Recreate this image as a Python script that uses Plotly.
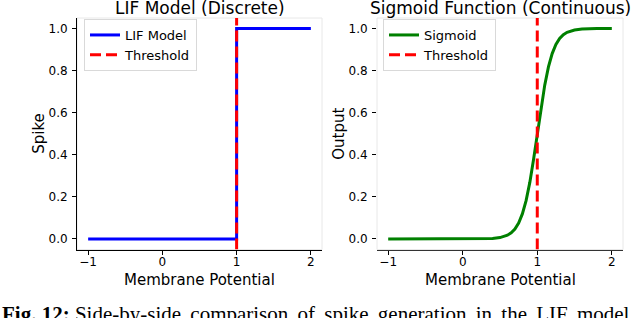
import plotly.graph_objects as go

# ---- data ----
lif_x = [-1.0, 1.0, 2.0]
lif_y = [0.0, 1.0, 1.0]
threshold = 1.0

sig_x = [-1.0, -0.5, 0.0, 0.2, 0.4, 0.5, 0.6, 0.65, 0.7, 0.75, 0.8, 0.85, 0.9, 0.95,
         1.0, 1.05, 1.1, 1.15, 1.2, 1.25, 1.3, 1.35, 1.4, 1.5, 1.6, 1.8, 2.0]
sig_y = [0.0, 0.0, 0.0, 0.0003, 0.0025, 0.0067, 0.018, 0.029, 0.047, 0.076, 0.119, 0.182,
         0.269, 0.378, 0.5, 0.622, 0.731, 0.818, 0.881, 0.924, 0.953, 0.971, 0.982, 0.993,
         0.9975, 0.9997, 1.0]

x_ticks = [-1, 0, 1, 2]
x_tick_labels = ["\u22121", "0", "1", "2"]
y_ticks = [0.0, 0.2, 0.4, 0.6, 0.8, 1.0]
y_tick_labels = ["0.0", "0.2", "0.4", "0.6", "0.8", "1.0"]
x_range = [-1.15, 2.15]
y_range = [-0.05, 1.05]

W, H = 640, 318
FONT = "DejaVu Sans"

def px_x(p):
    return p / W

def px_y(p):
    return (H - p) / H

dom_l = [px_x(77), px_x(322)]
dom_r = [px_x(377), px_x(623)]
dom_y = [px_y(249.5), px_y(18)]

fig = go.Figure()

fig.add_trace(go.Scatter(x=lif_x, y=lif_y, mode="lines", line=dict(color="#0000ff", width=3, shape="hv"),
                         name="LIF Model", xaxis="x", yaxis="y", legend="legend"))
fig.add_trace(go.Scatter(x=[threshold, threshold], y=y_range, mode="lines",
                         line=dict(color="#ff0000", width=3, dash="11px,5px"),
                         name="Threshold", xaxis="x", yaxis="y", legend="legend"))
fig.add_trace(go.Scatter(x=sig_x, y=sig_y, mode="lines", line=dict(color="#008000", width=3),
                         name="Sigmoid", xaxis="x2", yaxis="y2", legend="legend2"))
fig.add_trace(go.Scatter(x=[threshold, threshold], y=y_range, mode="lines",
                         line=dict(color="#ff0000", width=3, dash="11px,5px"),
                         name="Threshold", xaxis="x2", yaxis="y2", legend="legend2"))

tick_font = dict(family=FONT, size=12, color="black")
common_x = dict(range=x_range, tickvals=x_ticks, ticktext=x_tick_labels, ticks="outside",
                ticklen=4, tickwidth=1, tickcolor="black", showgrid=False, zeroline=False,
                tickfont=tick_font, fixedrange=True, ticklabelstandoff=-3)
common_y = dict(range=y_range, tickvals=y_ticks, ticktext=y_tick_labels, ticks="outside",
                ticklen=4, tickwidth=1, tickcolor="black", showgrid=False, zeroline=False,
                tickfont=tick_font, fixedrange=True, ticklabelstandoff=2)

legend_common = dict(bgcolor="rgba(255,255,255,0.8)", bordercolor="#d9d9d9", borderwidth=1,
                     font=dict(family=FONT, size=13, color="black"), xanchor="left", yanchor="top",
                     itemwidth=30, tracegroupgap=0)

fig.update_layout(
    width=W, height=H, margin=dict(l=0, r=0, t=0, b=0),
    paper_bgcolor="white", plot_bgcolor="white", showlegend=True,
    xaxis=dict(domain=dom_l, anchor="y", showline=True, linecolor="black", linewidth=1, **common_x),
    yaxis=dict(domain=dom_y, anchor="x", showline=True, linecolor="black", linewidth=1, **common_y),
    xaxis2=dict(domain=dom_r, anchor="y2", showline=True, linecolor="#333333", linewidth=1, **common_x),
    yaxis2=dict(domain=dom_y, anchor="x2", showline=False, **common_y),
    legend=dict(x=px_x(84), y=px_y(19), **legend_common),
    legend2=dict(x=px_x(383), y=px_y(19), **legend_common),
)

# light frames
for xd in (dom_l, dom_r):
    fig.add_shape(type="rect", xref="paper", yref="paper", x0=xd[0], x1=xd[1], y0=dom_y[0], y1=dom_y[1],
                  line=dict(color="#e8e8e8", width=1), layer="below")

ann = []
ann.append(dict(text="LIF Model (Discrete)", x=(dom_l[0] + dom_l[1]) / 2, y=px_y(8), xref="paper", yref="paper",
                showarrow=False, xanchor="center", yanchor="middle", font=dict(family=FONT, size=17, color="black")))
ann.append(dict(text="Sigmoid Function (Continuous)", x=(dom_r[0] + dom_r[1]) / 2, y=px_y(8), xref="paper", yref="paper",
                showarrow=False, xanchor="center", yanchor="middle", font=dict(family=FONT, size=17, color="black")))
for xd in (dom_l, dom_r):
    ann.append(dict(text="Membrane Potential", x=(xd[0] + xd[1]) / 2, y=px_y(279.5), xref="paper", yref="paper",
                    showarrow=False, xanchor="center", yanchor="middle", font=dict(family=FONT, size=15, color="black")))
ann.append(dict(text="Spike", x=px_x(39), y=(dom_y[0] + dom_y[1]) / 2, xref="paper", yref="paper", textangle=-90,
                showarrow=False, xanchor="center", yanchor="middle", font=dict(family=FONT, size=15, color="black")))
ann.append(dict(text="Output", x=px_x(339), y=(dom_y[0] + dom_y[1]) / 2, xref="paper", yref="paper", textangle=-90,
                showarrow=False, xanchor="center", yanchor="middle", font=dict(family=FONT, size=15, color="black")))
ann.append(dict(text='<b>Fig. 12:</b> <span style="word-spacing:4px">Side-by-side comparison of spike generation in the LIF model</span>',
                x=0, y=px_y(300), xref="paper", yref="paper", showarrow=False, xanchor="left", yanchor="top",
                font=dict(family="Liberation Serif", size=21, color="black")))
fig.update_layout(annotations=ann)

fig.write_html("out.html", config={"displayModeBar": False},
               post_script="document.body.style.margin='0px';")
